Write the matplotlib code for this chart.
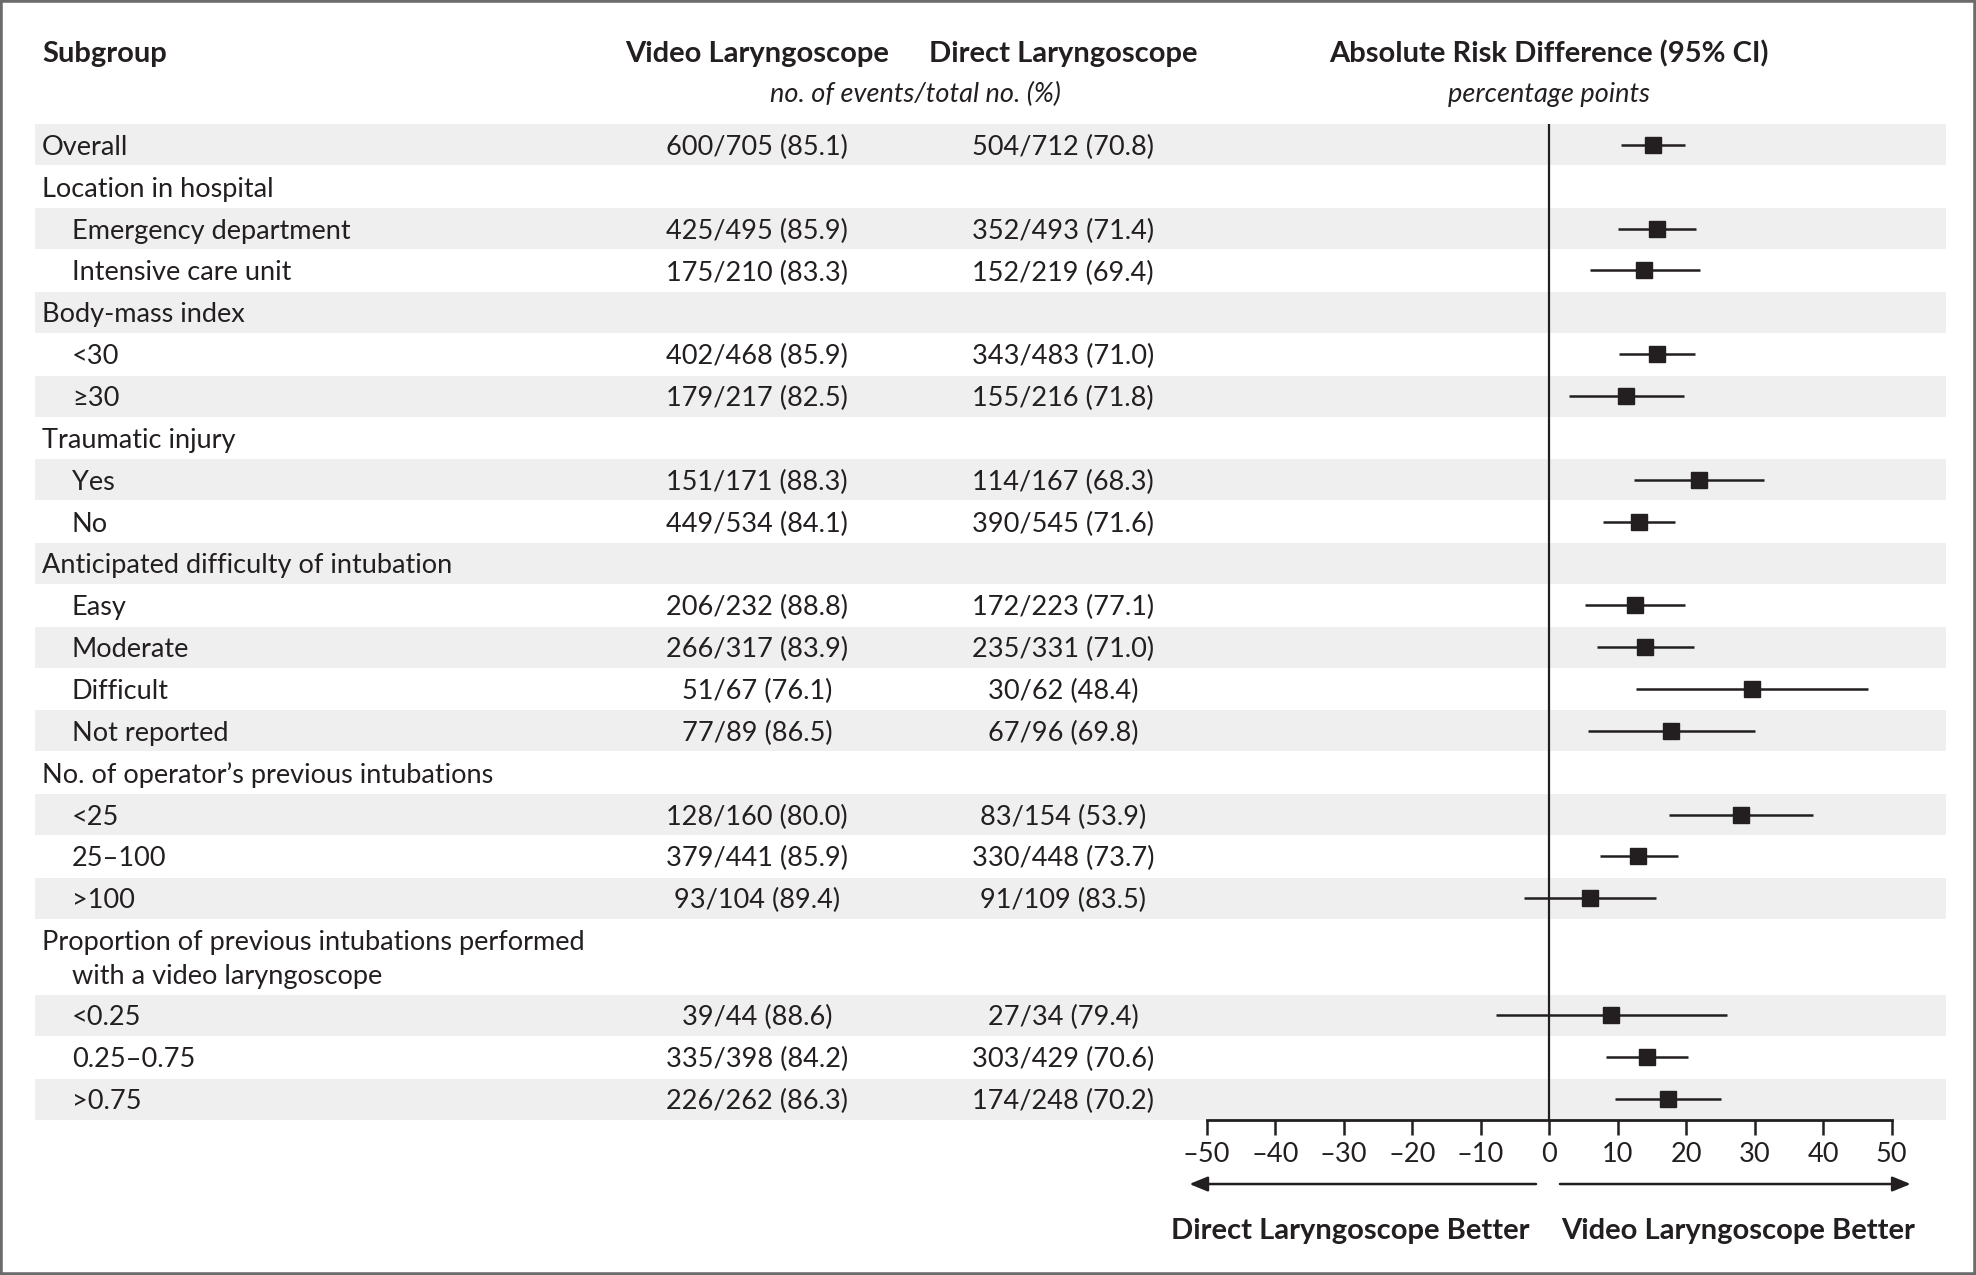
import numpy as np
import matplotlib
matplotlib.use("Agg")
import matplotlib.pyplot as plt
from matplotlib.patches import Rectangle

plt.rcParams['font.family'] = ['Lato', 'DejaVu Sans']

# rows of the forest plot
labels = ["Overall", "Location in hospital", "Emergency department", "Intensive care unit",
          "Body-mass index", "<30", "\u226530", "Traumatic injury", "Yes", "No",
          "Anticipated difficulty of intubation", "Easy", "Moderate", "Difficult", "Not reported",
          "No. of operator\u2019s previous intubations", "<25", "25\u2013100", ">100",
          "Proportion of previous intubations performed", "<0.25", "0.25\u20130.75", ">0.75"]
indent = [0, 0, 1, 1, 0, 1, 1, 0, 1, 1, 0, 1, 1, 1, 1, 0, 1, 1, 1, 0, 1, 1, 1]
video = ["600/705 (85.1)", "", "425/495 (85.9)", "175/210 (83.3)", "", "402/468 (85.9)",
         "179/217 (82.5)", "", "151/171 (88.3)", "449/534 (84.1)", "", "206/232 (88.8)",
         "266/317 (83.9)", "51/67 (76.1)", "77/89 (86.5)", "", "128/160 (80.0)",
         "379/441 (85.9)", "93/104 (89.4)", "", "39/44 (88.6)", "335/398 (84.2)", "226/262 (86.3)"]
direct = ["504/712 (70.8)", "", "352/493 (71.4)", "152/219 (69.4)", "", "343/483 (71.0)",
          "155/216 (71.8)", "", "114/167 (68.3)", "390/545 (71.6)", "", "172/223 (77.1)",
          "235/331 (71.0)", "30/62 (48.4)", "67/96 (69.8)", "", "83/154 (53.9)",
          "330/448 (73.7)", "91/109 (83.5)", "", "27/34 (79.4)", "303/429 (70.6)", "174/248 (70.2)"]
nan = np.nan
est = [15.2, nan, 15.7, 13.9, nan, 15.7, 11.3, nan, 21.9, 13.1, nan, 12.6, 14.0, 29.6, 17.8,
       nan, 28.0, 13.0, 6.0, nan, 9.1, 14.3, 17.3]
lo = [10.5, nan, 10.0, 6.0, nan, 10.2, 2.9, nan, 12.4, 7.9, nan, 5.3, 7.0, 12.7, 5.7,
      nan, 17.5, 7.4, -3.6, nan, -7.8, 8.3, 9.6]
hi = [19.8, nan, 21.5, 22.0, nan, 21.3, 19.7, nan, 31.4, 18.4, nan, 19.9, 21.2, 46.6, 30.1,
      nan, 38.5, 18.8, 15.6, nan, 26.0, 20.3, 25.1]
xticks = [-50, -40, -30, -20, -10, 0, 10, 20, 30, 40, 50]

ink = '#231f20'
band = '#efeff0'
fs = 19.5
fsb = 21

n = len(labels)
prop_idx = 19
ypos = np.arange(n) + 0.8 * (np.arange(n) > prop_idx)
dy = 0.06  # text sits a touch below the row centre

fig = plt.figure(figsize=(19.76, 12.75), dpi=100)
W, H = 1976, 1275
top_px, bot_px = 124, 1120
ax_rect_y = 1 - bot_px / H
ax_rect_h = (bot_px - top_px) / H

bg = fig.add_axes([0, ax_rect_y, 1, ax_rect_h])
ax = fig.add_axes([1206.5 / W, ax_rect_y, 685 / W, ax_rect_h], sharey=bg)
bg.set_xlim(0, 1)
bg.set_ylim(23.3, -0.5)
bg.axis('off')
ax.patch.set_alpha(0)

# shaded bands on alternate rows
for i in range(0, n, 2):
    bg.axhspan(ypos[i] - 0.49, ypos[i] + 0.49, xmin=35 / W, xmax=1946 / W,
               color=band, lw=0, zorder=0)

# table text
for i in range(n):
    x = 72 / W if indent[i] else 42 / W
    if i == prop_idx:
        bg.text(42 / W, ypos[i] + dy, labels[i], fontsize=fs, color=ink, va='center')
        bg.text(72 / W, ypos[i] + 0.8 + dy, "with a video laryngoscope", fontsize=fs,
                color=ink, va='center')
        continue
    bg.text(x, ypos[i] + dy, labels[i], fontsize=fs, color=ink, va='center')
    bg.text(757 / W, ypos[i] + dy, video[i], fontsize=fs, color=ink, va='center', ha='center')
    bg.text(1063 / W, ypos[i] + dy, direct[i], fontsize=fs, color=ink, va='center', ha='center')

# headers
hy, sy = -2.17, -1.2
bg.text(42 / W, hy, "Subgroup", fontsize=fsb, fontweight='bold', color=ink, va='center', clip_on=False)
bg.text(757 / W, hy, "Video Laryngoscope", fontsize=fsb, fontweight='bold', color=ink,
        va='center', ha='center', clip_on=False)
bg.text(1063 / W, hy, "Direct Laryngoscope", fontsize=fsb, fontweight='bold', color=ink,
        va='center', ha='center', clip_on=False)
bg.text(915 / W, sy, "no. of events/total no. (%)", fontsize=fs, style='italic', color=ink,
        va='center', ha='center', clip_on=False)
bg.text(1549 / W, hy, "Absolute Risk Difference (95% CI)", fontsize=fsb, fontweight='bold',
        color=ink, va='center', ha='center', clip_on=False)
bg.text(1549 / W, sy, "percentage points", fontsize=fs, style='italic', color=ink,
        va='center', ha='center', clip_on=False)

# forest plot
est = np.array(est)
ax.axvline(0, color=ink, lw=1.6, zorder=1)
ax.hlines(ypos, lo, hi, color=ink, lw=1.8, zorder=2)
ax.plot(est, ypos, 's', color=ink, ms=11.5, zorder=3)
ax.set_xlim(-50, 50)
ax.set_xticks(xticks)
ax.set_xticklabels([str(t).replace('-', '\u2013') for t in xticks], fontsize=fs, color=ink)
ax.tick_params(axis='x', length=11, width=1.8, color=ink, pad=5)
ax.tick_params(axis='y', left=False, labelleft=False)
for s in ['left', 'top', 'right']:
    ax.spines[s].set_visible(False)
ax.spines['bottom'].set_linewidth(2)
ax.spines['bottom'].set_color(ink)

# direction arrows and labels
ay, ly = 24.83, 25.95
ax.annotate("", xy=(-52.5, ay), xytext=(-1.9, ay), annotation_clip=False,
            arrowprops=dict(arrowstyle='-|>,head_length=1.1,head_width=0.45', color=ink,
                            lw=1.8, shrinkA=0, shrinkB=0))
ax.annotate("", xy=(52.8, ay), xytext=(1.6, ay), annotation_clip=False,
            arrowprops=dict(arrowstyle='-|>,head_length=1.1,head_width=0.45', color=ink,
                            lw=1.8, shrinkA=0, shrinkB=0))
ax.text(-2.8, ly, "Direct Laryngoscope Better", fontsize=fsb, fontweight='bold', color=ink,
        ha='right', va='center', clip_on=False)
ax.text(1.8, ly, "Video Laryngoscope Better", fontsize=fsb, fontweight='bold', color=ink,
        ha='left', va='center', clip_on=False)

# grey frame round the figure
fig.patches.append(Rectangle((0, 0), 1, 1, transform=fig.transFigure, fill=False,
                             edgecolor='#6b6b6b', lw=4, zorder=10))

fig.savefig("out.png", dpi=100)
